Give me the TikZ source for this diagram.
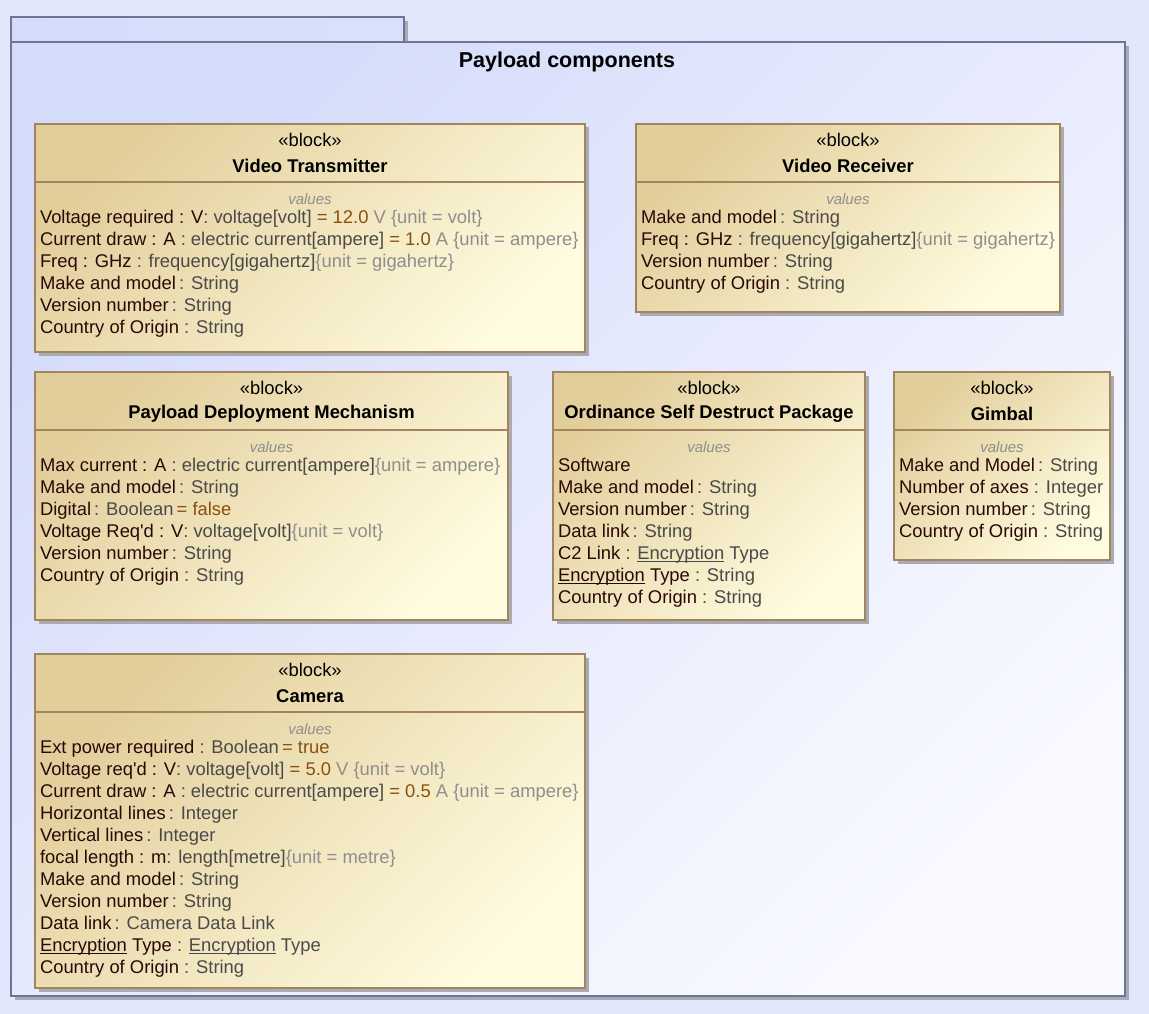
\documentclass[tikz,border=0pt]{standalone}
\usepackage{fontspec}
\setmainfont{Liberation Sans}
\usetikzlibrary{shadows}
\definecolor{bgc}{HTML}{E2E7FB}
\definecolor{frameA}{HTML}{D5DCFA}
\definecolor{frameB}{HTML}{F8F9FF}
\definecolor{framel}{HTML}{6C7698}
\definecolor{shadowc}{HTML}{A9AAB2}
\definecolor{blkA}{HTML}{E2CE9B}
\definecolor{blkB}{HTML}{FFFBDF}
\definecolor{blkl}{HTML}{A3845F}
\definecolor{nmc}{HTML}{2A0808}
\definecolor{tyc}{HTML}{4A4A4A}
\definecolor{vlc}{HTML}{8C4F0B}
\definecolor{unc}{HTML}{8E8E8E}
\newcommand{\ty}[1]{\textcolor{tyc}{#1}}
\newcommand{\vl}[1]{\textcolor{vlc}{#1}}
\newcommand{\un}[1]{\textcolor{unc}{#1}}
\newcommand{\ul}[1]{\setbox0\hbox{#1}\rlap{\rule[-2.2pt]{\wd0}{1pt}}\box0\relax}
\tikzset{
  blk/.style={draw=blkl, line width=1.2pt, left color=blkA, right color=blkB, shading angle=45,
    inner sep=0pt, outer sep=0pt, anchor=north west,
    drop shadow={shadow xshift=3.5pt, shadow yshift=-3.5pt, fill=shadowc, opacity=1}},
  divider/.style={draw=blkl, line width=1.2pt},
  stereo/.style={inner sep=0pt, font=\fontsize{18.4}{22}\selectfont, text=black},
  bname/.style={inner sep=0pt, font=\bfseries\fontsize{18.4}{22}\selectfont, text=black},
  vals/.style={inner sep=0pt, font=\itshape\fontsize{15}{18}\selectfont, text=unc},
  row/.style={anchor=base west, inner sep=0pt, outer sep=0pt, font=\fontsize{18.4}{22}\selectfont, text=nmc},
  framebox/.style={draw=framel, line width=1.3pt, left color=frameA, right color=frameB, shading angle=45,
    inner sep=0pt, outer sep=0pt, anchor=north west,
    drop shadow={shadow xshift=4pt, shadow yshift=-4pt, fill=shadowc, opacity=1}},
}
\begin{document}
\begin{tikzpicture}[x=1pt,y=-1pt]
\fill[bgc] (0,0) rectangle (1149,1014);
\useasboundingbox (0,0) rectangle (1149,1014);

% frame
\node[framebox, left color=frameA, right color=frameA!85!frameB, minimum width=393pt, minimum height=25pt] (tab) at (11,17) {};
\node[framebox, minimum width=1114pt, minimum height=954pt] (frame) at (11,42) {};
\node[inner sep=0pt, font=\bfseries\fontsize{21.5}{26}\selectfont] (title) at (567,62) {Payload components};

% Video Transmitter
\node[blk, minimum width=550pt, minimum height=228pt] (vt) at (35,124) {};
\draw[divider] ([yshift=-58pt]vt.north west) -- ([yshift=-58pt]vt.north east);
\node[stereo] (vt-s) at ([yshift=-16pt]vt.north) {«block»};
\node[bname] (vt-n) at ([yshift=-42pt]vt.north) {Video Transmitter};
\node[vals] (vt-v) at ([yshift=-75pt]vt.north) {values};
\node[row] (vt1) at (40,223.5) {Voltage required : V\ty{: voltage[volt]} \vl{= 12.0} \un{V \{unit = volt\}}};
\node[row] (vt2) at (40,245.5) {Current draw : A \ty{: electric current[ampere]} \vl{= 1.0} \un{A \{unit = ampere\}}};
\node[row] (vt3) at (40,267.5) {Freq : GHz \ty{: frequency[gigahertz]}\un{\{unit = gigahertz\}}};
\node[row] (vt4) at (40,289.5) {Make and model\,\ty{: String}};
\node[row] (vt5) at (40,311.5) {Version number\,\ty{: String}};
\node[row] (vt6) at (40,333.5) {Country of Origin \ty{: String}};

% Video Receiver
\node[blk, minimum width=424pt, minimum height=188pt] (vr) at (636,124) {};
\draw[divider] ([yshift=-58pt]vr.north west) -- ([yshift=-58pt]vr.north east);
\node[stereo] (vr-s) at ([yshift=-16pt]vr.north) {«block»};
\node[bname] (vr-n) at ([yshift=-42pt]vr.north) {Video Receiver};
\node[vals] (vr-v) at ([yshift=-75pt]vr.north) {values};
\node[row] (vr1) at (641,223.5) {Make and model\,\ty{: String}};
\node[row] (vr2) at (641,245.5) {Freq : GHz \ty{: frequency[gigahertz]}\un{\{unit = gigahertz\}}};
\node[row] (vr3) at (641,267.5) {Version number\,\ty{: String}};
\node[row] (vr4) at (641,289.5) {Country of Origin \ty{: String}};

% Payload Deployment Mechanism
\node[blk, minimum width=473pt, minimum height=248pt] (pdm) at (35,372) {};
\draw[divider] ([yshift=-58pt]pdm.north west) -- ([yshift=-58pt]pdm.north east);
\node[stereo] (pdm-s) at ([yshift=-16pt]pdm.north) {«block»};
\node[bname] (pdm-n) at ([yshift=-42pt]pdm.north) {Payload Deployment Mechanism};
\node[vals] (pdm-v) at ([yshift=-75pt]pdm.north) {values};
\node[row] (pdm1) at (40,471.5) {Max current : A \ty{: electric current[ampere]}\un{\{unit = ampere\}}};
\node[row] (pdm2) at (40,493.5) {Make and model\,\ty{: String}};
\node[row] (pdm3) at (40,515.5) {Digital\,\ty{: Boolean}\,\vl{= false}};
\node[row] (pdm4) at (40,537.5) {Voltage Req\textquotesingle d : V\ty{: voltage[volt]}\un{\{unit = volt\}}};
\node[row] (pdm5) at (40,559.5) {Version number\,\ty{: String}};
\node[row] (pdm6) at (40,581.5) {Country of Origin \ty{: String}};

% Ordinance Self Destruct Package
\node[blk, minimum width=312pt, minimum height=248pt] (osd) at (553,372) {};
\draw[divider] ([yshift=-58pt]osd.north west) -- ([yshift=-58pt]osd.north east);
\node[stereo] (osd-s) at ([yshift=-16pt]osd.north) {«block»};
\node[bname] (osd-n) at ([yshift=-42pt]osd.north) {Ordinance Self Destruct Package};
\node[vals] (osd-v) at ([yshift=-75pt]osd.north) {values};
\node[row] (osd1) at (558,471.5) {Software};
\node[row] (osd2) at (558,493.5) {Make and model\,\ty{: String}};
\node[row] (osd3) at (558,515.5) {Version number\,\ty{: String}};
\node[row] (osd4) at (558,537.5) {Data link\,\ty{: String}};
\node[row] (osd5) at (558,559.5) {C2 Link \ty{: \ul{Encryption} Type}};
\node[row] (osd6) at (558,581.5) {\ul{Encryption} Type \ty{: String}};
\node[row] (osd7) at (558,603.5) {Country of Origin \ty{: String}};

% Gimbal
\node[blk, minimum width=216pt, minimum height=188pt] (gim) at (894,372) {};
\draw[divider] ([yshift=-58pt]gim.north west) -- ([yshift=-58pt]gim.north east);
\node[stereo] (gim-s) at ([yshift=-16pt]gim.north) {«block»};
\node[bname] (gim-n) at ([yshift=-42pt]gim.north) {Gimbal};
\node[vals] (gim-v) at ([yshift=-75pt]gim.north) {values};
\node[row] (gim1) at (899,471.5) {Make and Model\,\ty{: String}};
\node[row] (gim2) at (899,493.5) {Number of axes \ty{: Integer}};
\node[row] (gim3) at (899,515.5) {Version number\,\ty{: String}};
\node[row] (gim4) at (899,537.5) {Country of Origin \ty{: String}};

% Camera
\node[blk, minimum width=550pt, minimum height=334pt] (cam) at (35,654) {};
\draw[divider] ([yshift=-58pt]cam.north west) -- ([yshift=-58pt]cam.north east);
\node[stereo] (cam-s) at ([yshift=-16pt]cam.north) {«block»};
\node[bname] (cam-n) at ([yshift=-42pt]cam.north) {Camera};
\node[vals] (cam-v) at ([yshift=-75pt]cam.north) {values};
\node[row] (cam1) at (40,753.5) {Ext power required \ty{: Boolean}\,\vl{= true}};
\node[row] (cam2) at (40,775.5) {Voltage req\textquotesingle d : V\ty{: voltage[volt]} \vl{= 5.0} \un{V \{unit = volt\}}};
\node[row] (cam3) at (40,797.5) {Current draw : A \ty{: electric current[ampere]} \vl{= 0.5} \un{A \{unit = ampere\}}};
\node[row] (cam4) at (40,819.5) {Horizontal lines\,\ty{: Integer}};
\node[row] (cam5) at (40,841.5) {Vertical lines\,\ty{: Integer}};
\node[row] (cam6) at (40,863.5) {focal length : m\ty{: length[metre]}\un{\{unit = metre\}}};
\node[row] (cam7) at (40,885.5) {Make and model\,\ty{: String}};
\node[row] (cam8) at (40,907.5) {Version number\,\ty{: String}};
\node[row] (cam9) at (40,929.5) {Data link\,\ty{: Camera Data Link}};
\node[row] (cam10) at (40,951.5) {\ul{Encryption} Type \ty{: \ul{Encryption} Type}};
\node[row] (cam11) at (40,973.5) {Country of Origin \ty{: String}};
\end{tikzpicture}
\end{document}
